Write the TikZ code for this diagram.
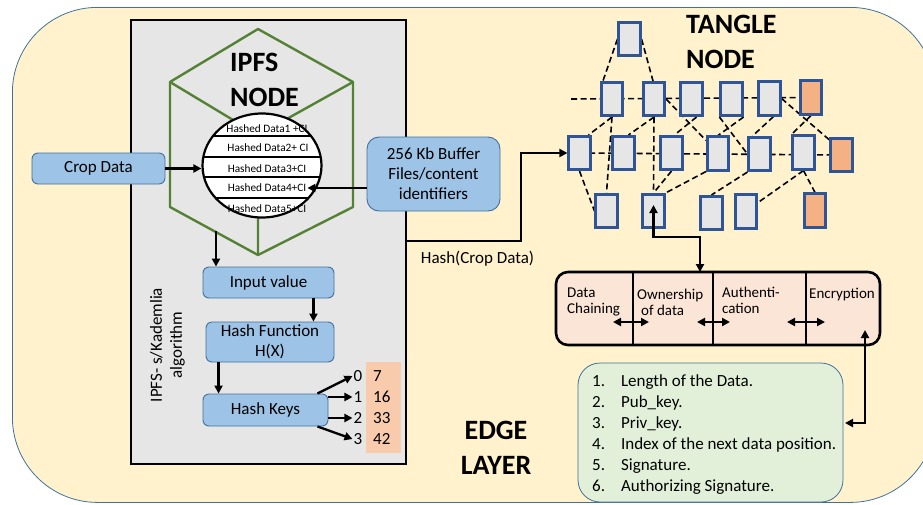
\documentclass[tikz,border=0pt]{standalone}
\usepackage{fontspec}
\setmainfont{Carlito}
\usetikzlibrary{arrows.meta,shapes.geometric}
\pgfdeclarelayer{back}
\pgfdeclarelayer{mid}
\pgfsetlayers{back,mid,main}

\definecolor{paper}{HTML}{FFF2CC}
\definecolor{paperline}{HTML}{41719C}
\definecolor{ipfsgray}{HTML}{E7E6E6}
\definecolor{hexgreen}{HTML}{548235}
\definecolor{bluefill}{HTML}{9DC3E6}
\definecolor{blueline}{HTML}{41719C}
\definecolor{tline}{HTML}{2F5597}
\definecolor{tgray}{HTML}{E6E6E6}
\definecolor{torange}{HTML}{F4B183}
\definecolor{keyfill}{HTML}{F8CBAD}
\definecolor{propfill}{HTML}{FBE5D6}
\definecolor{listfill}{HTML}{E2F0D9}

\tikzset{
  t17/.style={font=\fontsize{17}{20}\selectfont},
  t15/.style={font=\fontsize{15}{16}\selectfont},
  t11/.style={font=\fontsize{11.3}{13}\selectfont},
  title/.style={font=\bfseries\fontsize{28}{35}\selectfont},
  bluebox/.style={draw=blueline, fill=bluefill, line width=0.9pt,
    rounded corners=6pt, inner sep=0pt, t17},
  tn/.style={draw=tline, fill=tgray, line width=2.6pt, inner sep=0pt,
    minimum width=21.5pt, minimum height=33.5pt},
  tno/.style={tn, fill=torange},
  tdash/.style={line width=1.6pt, dash pattern=on 6pt off 3.5pt},
  arr/.style={line width=2.3pt, -{Triangle[length=8pt,width=8pt]}},
  dbl/.style={line width=2.3pt, {Triangle[length=8pt,width=8pt]}-{Triangle[length=8pt,width=8pt]}},
}

\begin{document}
\begin{tikzpicture}[x=1pt,y=-1pt]
\useasboundingbox (0,0) rectangle (923,504);

% ---------- backgrounds: edge layer and IPFS panel ----------
\begin{pgfonlayer}{back}
  \clip (0,0) rectangle (923,504);
  \node[draw=paperline, fill=paper, line width=0.8pt, rounded corners=85pt,
        minimum width=923pt, minimum height=495pt, anchor=north west, inner sep=0pt]
        (edge) at (12,7) {};
  \node[draw=black, fill=ipfsgray, line width=1.6pt, minimum width=275pt,
        minimum height=444pt, anchor=north west, inner sep=0pt]
        (ipfs) at (130,19) {};
\end{pgfonlayer}

% ---------- IPFS node: cube outline ----------
\coordinate (hT) at (258,29);
\coordinate (hUR) at (353,82);
\coordinate (hLR) at (353,207);
\coordinate (hB) at (258,255);
\coordinate (hLL) at (170,207);
\coordinate (hUL) at (170,82);
\coordinate (hC) at (258,135);
\draw[hexgreen, line width=2.4pt, line join=round]
  (hT) -- (hUR) -- (hLR) -- (hB) -- (hLL) -- (hUL) -- cycle;
\draw[hexgreen, line width=2.4pt] (hUL) -- (hC) -- (hUR) (hC) -- (hB);

\node[title, align=left, anchor=west, inner sep=0pt] (ipfstitle) at (230,80) {IPFS\\NODE};

% hashed data store
\node[draw, fill=white, ellipse, line width=2.2pt, minimum width=119pt,
      minimum height=104pt, inner sep=0pt] (store) at (262,165.5) {};
\begin{scope}
  \clip (store.center) ellipse [x radius=59.5pt, y radius=52pt];
  \foreach \yy in {136,157,177,198}
    \draw[line width=2pt] (195,\yy) -- (330,\yy);
\end{scope}
\node[t11, inner sep=0pt] (hd1) at (267,129) {Hashed Data1 +CI};
\node[t11, inner sep=0pt] (hd2) at (268,148) {Hashed Data2+ CI};
\node[t11, inner sep=0pt] (hd3) at (267,169) {Hashed Data3+CI};
\node[t11, inner sep=0pt] (hd4) at (267,188) {Hashed Data4+CI};
\node[t11, inner sep=0pt] (hd5) at (267,209) {Hashed Data5+CI};

% inputs of the store
\node[bluebox, minimum width=133pt, minimum height=31pt] (crop) at (98.5,168.5) {Crop Data};
\node[bluebox, rounded corners=12pt, minimum width=133pt, minimum height=74pt,
      align=center] (buf) at (433.5,174) {256 Kb Buffer\\Files/content\\identifiers};
\draw[arr] (crop.east) -- (crop.east -| store.west);
\draw[arr] (buf.west |- hd4.east) -- ([xshift=1pt]hd4.east);

% ---------- Kademlia hashing ----------
\node[bluebox, minimum width=131pt, minimum height=31pt] (input) at (268.5,282.5) {Input value};
\node[bluebox, minimum width=128pt, minimum height=40pt, align=center]
      (hashf) at (270,342) {Hash Function\\H(X)};
\node[bluebox, minimum width=125pt, minimum height=32pt] (keys) at (265.5,410) {Hash Keys};

\coordinate (hexout) at (216,231);
\draw[arr] (hexout) -- (hexout |- input.north);
\draw[arr] ([xshift=-21pt]input.south east) -- ([xshift=-21pt]input.south east |- hashf.north);
\draw[arr] ([xshift=13pt]hashf.south west) -- ([xshift=13pt]hashf.south west |- keys.north);

\node[t17, rotate=90, align=center, inner sep=0pt] (algo) at (167.5,345)
      {IPFS- s/Kademlia\\algorithm};

\node[fill=keyfill, minimum width=35pt, minimum height=91pt, inner sep=0pt] (tbl) at (383.5,407.5) {};
\foreach \i/\yy/\v in {0/376/7, 1/397/16, 2/418/33, 3/439/42} {
  \node[t17, inner sep=0pt] (k\i) at (358,\yy) {\i};
  \node[t17, inner sep=0pt, anchor=west] (v\i) at (373,\yy) {\v};
}
\draw[arr] ([xshift=-11pt]keys.north east) -- ([xshift=-1pt]k0.west);
\draw[arr] (keys.east |- k1.west) -- ([xshift=-1pt]k1.west);
\draw[arr] (keys.east |- k2.west) -- ([xshift=-1pt]k2.west);
\draw[arr] ([xshift=-11pt]keys.south east) -- ([xshift=-1pt]k3.west);

% ---------- Tangle ----------
\node[title, align=left, anchor=west, inner sep=0pt] (tangletitle) at (686,41.5) {TANGLE\\NODE};

\node[tn] (T) at (629.5,39) {};
\node[tn] (A1) at (612,99) {};
\node[tn] (A2) at (654,99) {};
\node[tn] (A3) at (691.5,99) {};
\node[tn] (A4) at (731.5,99) {};
\node[tn] (A5) at (769.5,98.5) {};
\node[tno] (A6) at (811,97.5) {};
\node[tn] (B1) at (579.5,153) {};
\node[tn] (B2) at (623.5,153) {};
\node[tn] (B3) at (671.5,153) {};
\node[tn] (B4) at (718,153.5) {};
\node[tn] (B5) at (759.5,154) {};
\node[tn] (B6) at (803.5,152.5) {};
\node[tno] (B7) at (841.5,155) {};
\node[tn] (C1) at (606.5,211) {};
\node[tn] (C2) at (653.5,211) {};
\node[tn] (C3) at (711.5,213) {};
\node[tn] (C4) at (746,211.5) {};
\node[tno] (C5) at (815,210.5) {};

\coordinate (row1) at (571,99);
\begin{pgfonlayer}{mid}
  \draw[tdash] (row1) -- (A6.center);
  \draw[tdash] (B1.center) -- (B7.center);
  \draw[tdash] (T.west) -- ([xshift=3pt]A1.north west);
  \draw[tdash] (T.east) -- ([xshift=-1pt]A2.north);
  \draw[tdash] (A1.south) -- ([xshift=-3pt]B1.north east);
  \draw[tdash] (A1.south) -- (C1.north);
  \draw[tdash] (B1.south) -- (C1.west);
  \draw[tdash] (A2.south) -- ([xshift=-7pt]B2.north east);
  \draw[tdash] (A2.south) -- (C2.north);
  \draw[tdash] (A2.east) -- ([yshift=-5pt]B4.north west);
  \draw[tdash] ([xshift=5pt]A3.south) -- ([xshift=3pt]B3.north);
  \draw[tdash] (A4.south east) -- (B4.north);
  \draw[tdash] (A4.south west) -- (B5.west);
  \draw[tdash] ([xshift=4pt]A5.south) -- ([xshift=-7pt]B5.north);
  \draw[tdash] (A5.east) -- ([yshift=-3pt]B7.north west);
  \draw[tdash] (A6.south) -- (B6.north west);
  \draw[tdash] (B3.south) -- (C2.north);
  \draw[tdash] (B4.south west) -- (C2.north east);
  \draw[tdash] (B5.south west) -- (C3.north);
  \draw[tdash] (B6.south) -- ([yshift=9pt]C4.east);
  \draw[tdash] (B6.south) -- (C5.north);
\end{pgfonlayer}

% hash of the crop data goes into the tangle
\coordinate (hs) at (405,241);
\draw[arr] (hs) -- ++(116,0) |- (B1.west);
\node[t17, inner sep=0pt] (hashlbl) at (477.5,259) {Hash(Crop Data)};

% ---------- properties bar ----------
\node[draw, line width=2.6pt, rounded corners=12pt, fill=propfill,
      minimum width=324pt, minimum height=73pt, inner sep=0pt] (props) at (718,308.5) {};
\foreach \xx in {633,713,806}
  \draw[line width=2.2pt] (\xx,0 |- props.north) -- (\xx,0 |- props.south);
\node[t15, align=left, anchor=west, inner sep=0pt] (p1) at (567,302) {Data\\Chaining};
\node[t15, align=left, anchor=west, inner sep=0pt] (p2) at (637,302) {Ownership\\\hspace{4pt}of data};
\node[t15, align=left, anchor=west, inner sep=0pt] (p3) at (722,300) {Authenti-\\cation};
\node[t15, anchor=west, inner sep=0pt] (p4) at (809,295) {Encryption};
\foreach \a/\b in {613/649, 697/730, 787/825}
  \draw[dbl] (\a,322) -- (\b,322);

\coordinate (c2in) at (653.5,205);
\coordinate (propin) at (700,272);
\draw[dbl] (c2in) -- ++(0,32) -| (propin);

% ---------- header fields ----------
\node[draw=blueline, fill=listfill, line width=0.8pt, rounded corners=22pt,
      minimum width=265pt, minimum height=139pt, inner sep=0pt] (list) at (710.5,432.5) {};
\node[anchor=west, inner sep=0pt, font=\fontsize{17}{21}\selectfont] (items) at (592,435)
 {\begin{tabular}{@{}l@{\hspace{16pt}}l@{}}
  1. & Length of the Data.\\
  2. & Pub\_key.\\
  3. & Priv\_key.\\
  4. & Index of the next data position.\\
  5. & Signature.\\
  6. & Authorizing Signature.
  \end{tabular}};

\coordinate (encin) at (865,330);
\coordinate (listin) at (845,423);
\draw[dbl] (encin) |- (listin);

\node[title, align=center, inner sep=0pt] (edgetitle) at (496,447.5) {EDGE\\LAYER};

\end{tikzpicture}
\end{document}
